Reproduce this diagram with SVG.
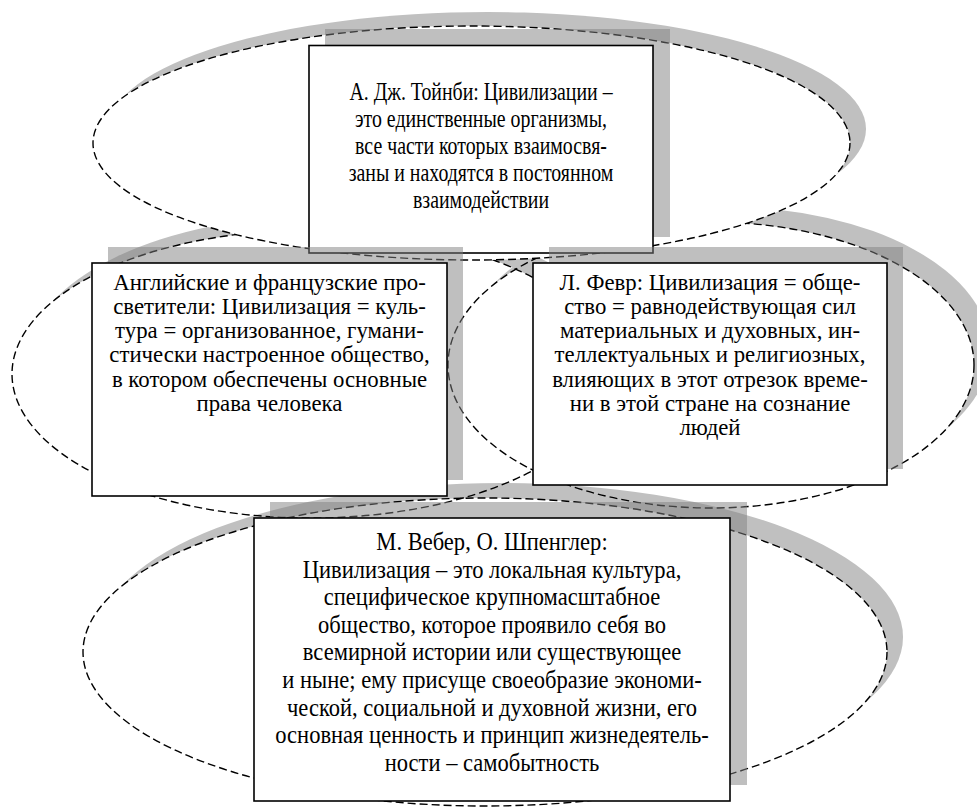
<svg xmlns="http://www.w3.org/2000/svg" width="977" height="809" viewBox="0 0 977 809">
<style>
.cres{fill:#c0c0c0}
.dash{fill:none;stroke:#000;stroke-width:1.4;stroke-dasharray:8 4}
.dashw{fill:#fff;stroke:#000;stroke-width:1.4;stroke-dasharray:8 4}
.shadow{fill:#808080;fill-opacity:.5}
.box{fill:#fff;stroke:#000;stroke-width:1.6}
.t{font-family:'Liberation Serif','Times New Roman',serif;font-size:22.8px;text-anchor:middle;fill:#000}
.tc{font-family:'Liberation Serif','Times New Roman',serif;font-size:24.5px;text-anchor:middle;fill:#000}
</style>
<defs>
<mask id="mTop" maskUnits="userSpaceOnUse" x="0" y="0" width="977" height="809"><rect width="977" height="809" fill="#fff"/><ellipse cx="471.5" cy="143" rx="378.5" ry="117" fill="#000"/></mask>
<mask id="mLeft" maskUnits="userSpaceOnUse" x="0" y="0" width="977" height="809"><rect width="977" height="809" fill="#fff"/><ellipse cx="311" cy="374" rx="299" ry="144" fill="#000"/></mask>
<mask id="mRight" maskUnits="userSpaceOnUse" x="0" y="0" width="977" height="809"><rect width="977" height="809" fill="#fff"/><ellipse cx="711" cy="365" rx="263" ry="143" fill="#000"/></mask>
<mask id="mBottom" maskUnits="userSpaceOnUse" x="0" y="0" width="977" height="809"><rect width="977" height="809" fill="#fff"/><ellipse cx="485" cy="652" rx="402" ry="154" fill="#000"/></mask>
</defs>
<rect width="977" height="809" fill="#fff"/>
<g id="crescents">
<ellipse class="cres" cx="327" cy="359" rx="299" ry="144" mask="url(#mLeft)"/>
<ellipse class="cres" cx="727" cy="350" rx="263" ry="143" mask="url(#mRight)"/>
<ellipse class="cres" cx="501" cy="637" rx="402" ry="154" mask="url(#mBottom)"/>
</g>
<g id="connectors">
<ellipse class="dash" cx="311" cy="374" rx="299" ry="144"/>
<ellipse class="dash" cx="711" cy="365" rx="263" ry="143"/>
<ellipse class="dash" cx="485" cy="652" rx="402" ry="154"/>
<ellipse class="cres" cx="487.5" cy="129" rx="378.5" ry="117" mask="url(#mTop)"/>
<ellipse class="dashw" cx="471.5" cy="143" rx="378.5" ry="117"/>
</g>
<g id="node-top">
<rect class="shadow" x="325" y="29" width="345" height="208"/>
<rect class="box" x="309" y="45.5" width="344" height="207.5"/>
<text class="tc" transform="translate(481 0) scale(0.81 1)"><tspan x="0" y="100">А. Дж. Тойнби: Цивилизации –</tspan><tspan x="0" y="127">это единственные организмы,</tspan><tspan x="0" y="154">все части которых взаимосвя-</tspan><tspan x="0" y="181">заны и находятся в постоянном</tspan><tspan x="0" y="208">взаимодействии</tspan></text>
</g>
<g id="node-left">
<rect class="shadow" x="108" y="247" width="355" height="233"/>
<rect class="box" x="92" y="263" width="355" height="233"/>
<text class="t"><tspan x="269.5" y="289.5">Английские и французские про-</tspan><tspan x="269.5" y="313.8">светители: Цивилизация = куль-</tspan><tspan x="269.5" y="338.1">тура = организованное, гумани-</tspan><tspan x="269.5" y="362.4">стически настроенное общество,</tspan><tspan x="269.5" y="386.7">в котором обеспечены основные</tspan><tspan x="269.5" y="411">права человека</tspan></text>
</g>
<g id="node-right">
<rect class="shadow" x="549" y="247" width="354" height="222"/>
<rect class="box" x="533" y="263" width="354" height="222"/>
<text class="t"><tspan x="710" y="289.5">Л. Февр: Цивилизация = обще-</tspan><tspan x="710" y="313.8">ство = равнодействующая сил</tspan><tspan x="710" y="338.1">материальных и духовных, ин-</tspan><tspan x="710" y="362.4">теллектуальных и религиозных,</tspan><tspan x="710" y="386.7">влияющих в этот отрезок време-</tspan><tspan x="710" y="411">ни в этой стране на сознание</tspan><tspan x="710" y="435.3">людей</tspan></text>
</g>
<g id="node-bottom">
<rect class="shadow" x="270" y="502" width="477" height="283"/>
<rect class="box" x="254" y="518" width="476" height="283"/>
<text class="tc" transform="translate(492 0) scale(0.92 1)"><tspan x="0" y="550">М. Вебер, О. Шпенглер:</tspan><tspan x="0" y="577.6">Цивилизация – это локальная культура,</tspan><tspan x="0" y="605.2">специфическое крупномасштабное</tspan><tspan x="0" y="632.8">общество, которое проявило себя во</tspan><tspan x="0" y="660.4">всемирной истории или существующее</tspan><tspan x="0" y="688">и ныне; ему присуще своеобразие экономи-</tspan><tspan x="0" y="715.6">ческой, социальной и духовной жизни, его</tspan><tspan x="0" y="743.2">основная ценность и принцип жизнедеятель-</tspan><tspan x="0" y="770.8">ности – самобытность</tspan></text>
</g>
</svg>
